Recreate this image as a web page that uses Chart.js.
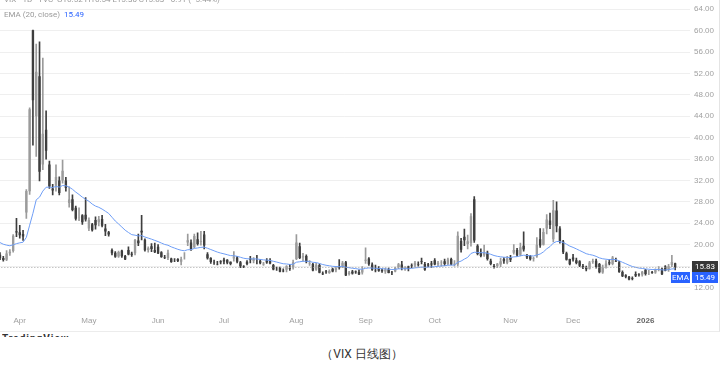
<!DOCTYPE html>
<html lang="zh">
<head>
  <meta charset="UTF-8">
  <meta name="viewport" content="width=device-width, initial-scale=1.0">
  <title>VIX 日线图</title>
  <script src="https://cdn.jsdelivr.net/npm/chart.js"></script>
  <style>
    body {
      margin: 0;
      background: #fff;
      font-family: Roboto, Arial, sans-serif;
    }
    #wrap {
      position: relative;
      width: 719px;
      height: 331px;
      border-right: 1px solid #e4e4e4;
      border-bottom: 1px solid #ececec;
      overflow: hidden;
    }
    #box {
      position: absolute;
      left: -6px;
      top: 0;
      width: 728px;
      height: 338px;
    }
    .legend {
      position: absolute;
      left: 4px;
      font-size: 8px;
      color: #9a9a9a;
      white-space: nowrap;
    }
    #l1 { top: -5px; }
    #l2 { top: 10px; }
    .blue { color: #2962ff; }
    #logo {
      position: absolute;
      left: 2px;
      top: 333px;
      height: 4px;
      overflow: hidden;
      font-size: 10px;
      font-weight: bold;
      color: #333;
      letter-spacing: 1px;
    }
    #caption {
      position: absolute;
      top: 346px;
      left: 0;
      width: 724px;
      text-align: center;
      font-size: 12px;
      color: #333;
    }
  </style>
</head>
<body>
  <div id="wrap">
    <div id="box"><canvas id="vix"></canvas></div>
    <div class="legend" id="l1">VIX · 1D · TVC&nbsp; O16.52 H16.54 L15.30 C15.83 −0.91 (−5.44%)</div>
    <div class="legend" id="l2">EMA (20, close)&nbsp; <span class="blue">15.49</span></div>
  </div>
  <div id="logo">TradingView</div>
  <div id="caption">（VIX 日线图）</div>

  <script>
    // trading days, 2025-03-24 .. 2026-01-15
    const dates = [
      '2025-03-24','2025-03-25','2025-03-26','2025-03-27','2025-03-28','2025-03-31',
      '2025-04-01','2025-04-02','2025-04-03','2025-04-04','2025-04-07','2025-04-08','2025-04-09','2025-04-10','2025-04-11','2025-04-14','2025-04-15','2025-04-16','2025-04-17','2025-04-21','2025-04-22','2025-04-23','2025-04-24','2025-04-25','2025-04-28','2025-04-29','2025-04-30',
      '2025-05-01','2025-05-02','2025-05-05','2025-05-06','2025-05-07','2025-05-08','2025-05-09','2025-05-12','2025-05-13','2025-05-14','2025-05-15','2025-05-16','2025-05-19','2025-05-20','2025-05-21','2025-05-22','2025-05-23','2025-05-27','2025-05-28','2025-05-29','2025-05-30',
      '2025-06-02','2025-06-03','2025-06-04','2025-06-05','2025-06-06','2025-06-09','2025-06-10','2025-06-11','2025-06-12','2025-06-13','2025-06-16','2025-06-17','2025-06-18','2025-06-20','2025-06-23','2025-06-24','2025-06-25','2025-06-26','2025-06-27','2025-06-30',
      '2025-07-01','2025-07-02','2025-07-03','2025-07-07','2025-07-08','2025-07-09','2025-07-10','2025-07-11','2025-07-14','2025-07-15','2025-07-16','2025-07-17','2025-07-18','2025-07-21','2025-07-22','2025-07-23','2025-07-24','2025-07-25','2025-07-28','2025-07-29','2025-07-30','2025-07-31',
      '2025-08-01','2025-08-04','2025-08-05','2025-08-06','2025-08-07','2025-08-08','2025-08-11','2025-08-12','2025-08-13','2025-08-14','2025-08-15','2025-08-18','2025-08-19','2025-08-20','2025-08-21','2025-08-22','2025-08-25','2025-08-26','2025-08-27','2025-08-28','2025-08-29',
      '2025-09-02','2025-09-03','2025-09-04','2025-09-05','2025-09-08','2025-09-09','2025-09-10','2025-09-11','2025-09-12','2025-09-15','2025-09-16','2025-09-17','2025-09-18','2025-09-19','2025-09-22','2025-09-23','2025-09-24','2025-09-25','2025-09-26','2025-09-29','2025-09-30',
      '2025-10-01','2025-10-02','2025-10-03','2025-10-06','2025-10-07','2025-10-08','2025-10-09','2025-10-10','2025-10-13','2025-10-14','2025-10-15','2025-10-16','2025-10-17','2025-10-20','2025-10-21','2025-10-22','2025-10-23','2025-10-24','2025-10-27','2025-10-28','2025-10-29','2025-10-30','2025-10-31',
      '2025-11-03','2025-11-04','2025-11-05','2025-11-06','2025-11-07','2025-11-10','2025-11-11','2025-11-12','2025-11-13','2025-11-14','2025-11-17','2025-11-18','2025-11-19','2025-11-20','2025-11-21','2025-11-24','2025-11-25','2025-11-26','2025-11-28',
      '2025-12-01','2025-12-02','2025-12-03','2025-12-04','2025-12-05','2025-12-08','2025-12-09','2025-12-10','2025-12-11','2025-12-12','2025-12-15','2025-12-16','2025-12-17','2025-12-18','2025-12-19','2025-12-22','2025-12-23','2025-12-24','2025-12-26','2025-12-29','2025-12-30','2025-12-31',
      '2026-01-02','2026-01-05','2026-01-06','2026-01-07','2026-01-08','2026-01-09','2026-01-12','2026-01-13','2026-01-14','2026-01-15'
    ];

    const opens = [
      18.1,17.5,17.2,18.4,18.8,22.5,
      22.3,22.0,26.0,30.0,60.1,44.0,51.5,35.0,41.5,35.0,30.5,31.0,32.0,32.0,32.0,27.8,28.5,26.9,25.1,25.5,25.6,
      23.0,23.8,24.6,24.2,24.8,23.0,22.3,19.0,18.5,17.8,18.9,17.9,19.0,18.3,18.4,20.8,22.6,20.9,19.0,19.7,19.0,
      19.6,18.6,17.7,17.5,17.4,17.2,17.3,16.8,18.0,20.4,20.4,19.5,21.0,20.5,21.9,18.2,17.5,16.6,16.4,16.9,
      17.2,17.2,16.8,17.4,17.6,16.7,15.9,16.8,17.4,17.0,17.2,17.0,16.3,17.1,17.0,16.2,15.4,15.7,15.1,15.3,15.7,15.7,
      17.3,19.7,17.6,17.9,16.5,16.4,15.3,16.2,14.6,15.0,14.7,15.5,15.2,16.0,15.9,16.7,14.5,15.0,15.0,14.9,14.8,
      17.0,17.4,16.3,15.2,15.6,15.3,15.0,15.4,14.8,15.0,15.8,16.3,15.4,15.9,16.2,16.1,16.3,16.9,16.4,16.3,16.5,
      17.1,16.3,16.6,16.9,16.4,17.3,16.3,16.3,20.7,21.5,20.1,20.3,28.5,19.8,18.5,18.0,18.5,17.0,16.0,16.0,16.3,17.3,16.6,
      17.6,18.5,19.0,18.1,19.8,18.0,17.9,17.4,17.8,21.0,20.0,23.0,24.5,21.0,26.4,23.0,20.6,18.4,17.3,
      17.6,17.1,16.9,16.0,15.7,15.5,16.8,17.0,16.4,14.8,15.9,16.7,16.4,17.0,16.7,14.9,14.3,14.0,13.7,14.5,14.4,14.4,
      15.3,14.9,14.9,14.8,15.4,15.5,15.9,15.3,16.2,16.52
    ];
    const highs = [
      18.5,17.8,18.9,19.1,21.9,24.9,
      23.6,22.7,30.3,45.6,60.1,57.5,57.9,54.9,45.0,35.6,31.3,34.9,32.7,35.8,32.6,30.8,29.3,27.2,26.9,25.6,28.8,
      25.0,24.0,25.2,25.3,25.5,23.8,22.5,19.2,18.7,18.8,19.0,18.0,19.6,18.6,21.0,22.0,25.5,21.1,19.6,20.2,20.3,
      20.0,18.7,18.0,19.0,17.5,17.4,17.4,17.7,18.5,22.0,20.9,22.0,22.2,22.5,22.5,18.5,17.6,17.1,16.9,17.0,
      17.5,17.2,16.8,18.7,17.8,16.9,16.1,17.0,17.8,17.6,18.0,17.2,16.7,17.4,17.4,16.3,15.8,15.8,15.5,16.1,16.3,17.1,
      21.9,20.3,18.4,18.1,17.0,16.5,16.5,16.4,14.9,15.2,15.3,15.6,15.9,17.2,16.9,16.9,15.0,15.2,15.1,15.3,15.9,
      19.4,17.6,16.6,16.2,15.9,15.5,15.6,15.6,15.0,15.8,16.5,16.9,15.9,16.0,16.4,16.9,16.8,17.5,16.7,16.5,16.9,
      17.4,16.9,17.0,17.3,17.5,17.5,17.0,22.4,21.2,22.9,21.8,25.8,29.0,20.0,19.2,19.9,18.8,17.3,16.3,16.5,17.5,17.6,17.8,
      18.0,20.0,19.3,20.3,22.4,18.2,18.0,17.7,21.3,23.0,23.0,25.6,25.9,28.3,28.0,23.4,20.8,18.6,17.3,
      18.2,17.5,17.0,16.3,16.0,16.9,17.3,17.3,16.5,16.2,17.0,17.2,17.8,17.5,16.9,15.1,14.4,14.1,14.0,14.9,14.6,15.0,
      15.4,15.2,15.0,15.5,15.9,15.6,16.1,16.3,18.0,16.54
    ];
    const lows = [
      17.2,16.9,17.0,18.0,18.6,21.5,
      21.2,20.8,24.9,29.4,38.6,36.5,31.9,34.0,36.0,30.5,29.3,30.0,29.3,31.5,30.0,27.0,26.3,24.6,24.5,23.8,24.4,
      22.6,22.5,22.9,23.5,23.3,21.7,21.6,18.1,17.6,17.6,17.6,17.2,18.1,17.8,18.1,19.8,20.9,18.8,18.6,18.7,18.5,
      18.3,17.6,17.4,17.2,16.7,16.8,16.8,16.2,17.3,19.8,18.9,19.4,19.9,19.9,19.2,17.3,16.5,16.3,16.2,16.4,
      16.4,16.4,16.2,16.9,16.6,15.7,15.7,16.2,16.6,16.6,16.4,16.4,16.1,16.5,16.4,15.3,15.2,14.9,14.9,14.9,15.2,15.4,
      17.2,17.4,16.9,16.6,16.1,15.1,15.2,14.7,14.4,14.6,14.6,14.9,14.9,15.4,15.7,14.2,14.3,14.5,14.6,14.4,14.5,
      16.5,16.1,15.2,14.9,15.0,14.8,14.6,14.7,14.4,14.9,15.5,15.3,15.2,15.1,15.7,15.8,16.0,16.4,15.2,15.9,15.7,
      16.2,16.0,16.0,16.1,16.2,16.2,16.0,16.0,18.6,19.8,19.2,19.7,20.4,18.1,17.7,17.8,17.1,16.2,15.6,15.7,15.9,16.5,16.4,
      16.8,18.2,17.8,17.9,18.8,17.4,17.1,16.9,17.6,19.5,19.9,22.0,23.0,20.5,22.4,20.3,18.3,17.1,16.2,
      16.9,16.4,15.9,15.5,15.1,15.4,16.5,15.6,14.7,14.6,15.6,16.2,16.2,16.8,14.8,14.0,13.8,13.4,13.4,14.0,14.1,14.1,
      14.3,14.4,14.6,14.6,15.1,14.4,15.1,15.0,15.9,15.30
    ];
    const closes = [
      17.48,17.15,18.33,18.69,21.65,22.28,
      21.77,21.51,30.02,45.31,46.98,52.33,33.62,40.72,37.56,30.89,30.12,32.64,29.65,33.82,30.57,28.45,26.47,24.84,25.15,24.17,24.70,
      24.60,22.68,23.64,24.76,23.55,22.48,21.90,18.39,17.72,18.62,17.83,17.24,18.14,18.09,20.87,20.28,22.29,18.96,19.31,19.18,18.57,
      18.36,17.69,17.61,18.48,16.77,17.16,16.95,17.26,18.02,20.82,19.11,21.60,20.14,20.62,19.83,17.48,16.76,16.59,16.32,16.73,
      16.83,16.64,16.38,17.79,16.81,15.94,15.78,16.40,17.20,17.38,17.16,16.52,16.41,16.65,16.50,15.37,15.39,14.93,15.03,15.98,15.48,16.72,
      20.38,17.52,17.85,16.77,16.57,15.15,16.25,14.73,14.49,14.83,15.09,15.00,15.57,15.69,16.60,14.22,14.79,14.62,14.85,14.43,15.36,
      17.17,16.35,15.30,15.18,15.11,15.04,15.35,14.71,14.76,15.69,16.36,15.72,15.70,15.45,16.10,16.64,16.18,16.74,15.29,16.12,16.28,
      16.29,16.63,16.65,16.37,17.24,16.30,16.43,21.66,19.03,20.81,20.64,25.31,20.78,18.23,17.87,18.60,17.30,16.37,15.79,16.42,16.92,16.91,17.44,
      17.17,19.00,18.01,19.50,19.08,17.60,17.28,17.51,20.00,19.83,22.38,24.69,23.66,26.42,23.43,20.52,18.56,17.19,16.35,
      17.24,16.59,16.08,15.78,15.41,16.66,16.93,15.77,14.85,15.74,16.50,16.48,17.62,16.87,14.91,14.08,14.00,13.47,13.60,14.20,14.33,14.95,
      14.51,14.90,14.75,15.38,15.45,14.49,15.12,15.98,16.74,15.83
    ];
    // EMA(20, close)
    const ema = [
      20.39,20.08,19.91,19.79,19.97,20.19,
      20.34,20.45,21.36,23.64,25.86,28.38,28.88,30.01,30.73,30.75,30.69,30.88,30.76,31.05,31.00,30.76,30.35,29.83,29.38,28.88,28.48,
      28.11,27.59,27.21,26.98,26.65,26.25,25.84,25.13,24.42,23.87,23.29,22.71,22.27,21.87,21.77,21.63,21.69,21.43,21.23,21.03,20.80,
      20.57,20.30,20.04,19.89,19.59,19.36,19.13,18.95,18.86,19.05,19.06,19.30,19.38,19.50,19.53,19.33,19.09,18.85,18.61,18.43,
      18.28,18.12,17.95,17.93,17.82,17.64,17.46,17.36,17.34,17.34,17.32,17.24,17.16,17.11,17.05,16.89,16.75,16.58,16.43,16.39,16.30,16.34,
      16.72,16.80,16.90,16.89,16.86,16.70,16.66,16.48,16.29,16.15,16.05,15.95,15.91,15.89,15.96,15.79,15.69,15.59,15.52,15.42,15.41,
      15.58,15.65,15.62,15.58,15.54,15.49,15.48,15.41,15.35,15.38,15.47,15.49,15.51,15.50,15.56,15.66,15.71,15.81,15.76,15.79,15.84,
      15.88,15.95,16.02,16.05,16.16,16.17,16.19,16.71,16.93,17.30,17.62,18.35,18.58,18.55,18.49,18.50,18.39,18.20,17.97,17.82,17.73,17.65,17.63,
      17.59,17.72,17.75,17.92,18.03,17.99,17.92,17.88,18.08,18.25,18.64,19.22,19.64,20.29,20.59,20.58,20.39,20.09,19.73,
      19.49,19.21,18.91,18.61,18.31,18.15,18.03,17.81,17.53,17.36,17.28,17.20,17.24,17.20,16.98,16.70,16.44,16.16,15.92,15.76,15.62,15.56,
      15.46,15.41,15.35,15.35,15.36,15.28,15.26,15.33,15.46,15.49
    ];

    const yTicks = [12, 16, 20, 24, 28, 32, 36, 40, 44, 48, 52, 56, 60, 64];
    const monthNames = ['2026', 'Feb', 'Mar', 'Apr', 'May', 'Jun', 'Jul', 'Aug', 'Sep', 'Oct', 'Nov', 'Dec'];
    const lastPrice = 15.83;
    const lastEma = 15.49;

    const upColor = '#9b9b9b';
    const downColor = '#3e3e3e';
    const emaColor = '#6f9ef6';

    // empty slots on the right, like the chart's right margin
    const labels = dates.concat(['', '', '', '']);
    const candleColors = closes.map((c, i) => c >= opens[i] ? upColor : downColor);

    const priceLabels = {
      id: 'priceLabels',
      afterDraw(chart) {
        const ctx = chart.ctx;
        const area = chart.chartArea;
        const y = chart.scales.y;
        const py = Math.round(y.getPixelForValue(lastPrice)) + 0.5;
        ctx.save();
        // dotted last price line
        ctx.strokeStyle = '#a8a8a8';
        ctx.lineWidth = 1;
        ctx.setLineDash([1, 2]);
        ctx.beginPath();
        ctx.moveTo(area.left, py);
        ctx.lineTo(area.right, py);
        ctx.stroke();
        ctx.setLineDash([]);

        const x0 = area.right + 2;
        const w = chart.width - x0 - 4;
        const h = 11;
        ctx.font = '8px Roboto, Arial, sans-serif';
        ctx.textBaseline = 'middle';
        ctx.textAlign = 'center';

        ctx.fillStyle = '#363636';
        ctx.fillRect(x0, py - h / 2 - 1, w, h);
        ctx.fillStyle = '#fff';
        ctx.fillText(lastPrice.toFixed(2), x0 + w / 2, py - 1);

        let ey = y.getPixelForValue(lastEma);
        if (ey < py + h) ey = py + h;
        ctx.fillStyle = '#2962ff';
        ctx.fillRect(x0, ey - h / 2 - 1, w, h);
        ctx.fillRect(area.right - 19, ey - h / 2 - 1, 19, h);
        ctx.fillStyle = '#fff';
        ctx.fillText(lastEma.toFixed(2), x0 + w / 2, ey - 1);
        ctx.fillText('EMA', area.right - 9.5, ey - 1);
        ctx.restore();
      }
    };

    const ctx = document.getElementById('vix').getContext('2d');
    new Chart(ctx, {
      data: {
        labels: labels,
        datasets: [
          {
            type: 'line',
            label: 'EMA',
            data: ema,
            borderColor: emaColor,
            borderWidth: 1,
            pointRadius: 0,
            tension: 0,
            order: 0
          },
          {
            type: 'bar',
            label: 'body',
            data: opens.map((o, i) => [o, closes[i]]),
            backgroundColor: candleColors,
            borderWidth: 0,
            grouped: false,
            categoryPercentage: 1,
            barPercentage: 0.72,
            order: 1
          },
          {
            type: 'bar',
            label: 'wick',
            data: lows.map((l, i) => [l, highs[i]]),
            backgroundColor: candleColors,
            borderWidth: 0,
            grouped: false,
            barThickness: 1,
            order: 2
          }
        ]
      },
      options: {
        responsive: true,
        maintainAspectRatio: false,
        animation: false,
        layout: { padding: { top: 0, right: 4, bottom: 6, left: 0 } },
        plugins: {
          legend: { display: false },
          tooltip: { enabled: false }
        },
        scales: {
          x: {
            type: 'category',
            offset: true,
            grid: { display: false, drawTicks: false },
            border: { display: false },
            ticks: {
              autoSkip: false,
              maxRotation: 0,
              padding: 6,
              color: (c) => c.tick && c.tick.label === '2026' ? '#666' : '#a0a0a0',
              font: (c) => ({ size: 8, weight: c.tick && c.tick.label === '2026' ? 'bold' : 'normal' }),
              callback: function (value, index) {
                const d = labels[index];
                if (!d || index === 0) return '';
                if (labels[index - 1].slice(0, 7) === d.slice(0, 7)) return '';
                return monthNames[+d.slice(5, 7) - 1];
              }
            }
          },
          y: {
            position: 'right',
            min: 7.71,
            max: 64.09,
            afterBuildTicks: (axis) => {
              axis.ticks = yTicks.map(v => ({ value: v }));
            },
            grid: { color: '#efefef', drawTicks: false },
            border: { display: false },
            ticks: {
              padding: 4,
              color: '#a0a0a0',
              font: { size: 8 },
              callback: (v) => v === 16 ? '' : v.toFixed(2)
            }
          }
        }
      },
      plugins: [priceLabels]
    });
  </script>
</body>
</html>
